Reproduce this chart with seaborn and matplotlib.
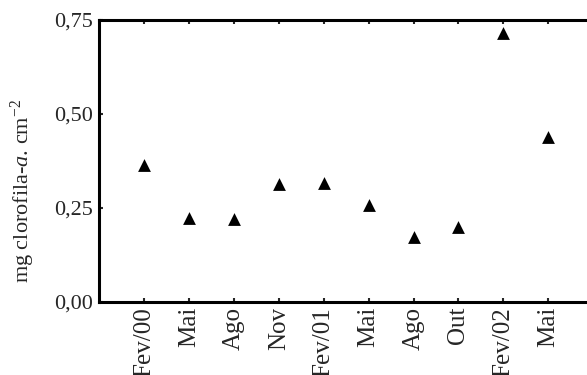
import pandas as pd
import seaborn as sns
import matplotlib.pyplot as plt

# sampling dates and chlorophyll-a values
meses = ['Fev/00', 'Mai', 'Ago', 'Nov', 'Fev/01', 'Mai', 'Ago', 'Out', 'Fev/02', 'Mai']
clorofila = [0.364, 0.222, 0.220, 0.313, 0.315, 0.257, 0.173, 0.198, 0.715, 0.439]
y_ticks = [0.0, 0.25, 0.50, 0.75]
y_labels = ['0,00', '0,25', '0,50', '0,75']

df = pd.DataFrame({'pos': range(len(meses)), 'chl': clorofila})

sns.set_style('ticks')
plt.rcParams['font.family'] = ['Liberation Serif', 'DejaVu Serif']
plt.rcParams['mathtext.fontset'] = 'custom'
plt.rcParams['mathtext.rm'] = 'Liberation Serif'
plt.rcParams['mathtext.it'] = 'Liberation Serif:italic'

fig = plt.figure(figsize=(5.87, 3.75), dpi=100)
ax = fig.add_axes([0.1687, 0.196, 0.842, 0.751])

sns.scatterplot(data=df, x='pos', y='chl', marker='^', s=85, color='black',
                edgecolor='black', linewidth=0, ax=ax)

ax.set_xlim(-1, 10)
ax.set_ylim(0, 0.75)
ax.set_xticks(range(len(meses)))
ax.set_xticklabels(meses, rotation=90, fontsize=18)
ax.set_yticks(y_ticks)
ax.set_yticklabels(y_labels, fontsize=16)
ax.set_xlabel('')
ax.set_ylabel(r'mg clorofila-$\it{a}$. cm$^{-2}$', fontsize=16)
# label sits a bit below the middle of the axis in the original
ax.yaxis.set_label_coords(-0.126, 0.394)

for side in ['left', 'bottom', 'top']:
    ax.spines[side].set_linewidth(2.2)
    ax.spines[side].set_color('black')
ax.spines['right'].set_visible(False)
ax.tick_params(axis='x', direction='in', top=True, length=3, width=1.5, pad=4)
ax.tick_params(axis='y', direction='in', length=3, width=1.5, pad=4)

fig.savefig('out.png', dpi=100)
